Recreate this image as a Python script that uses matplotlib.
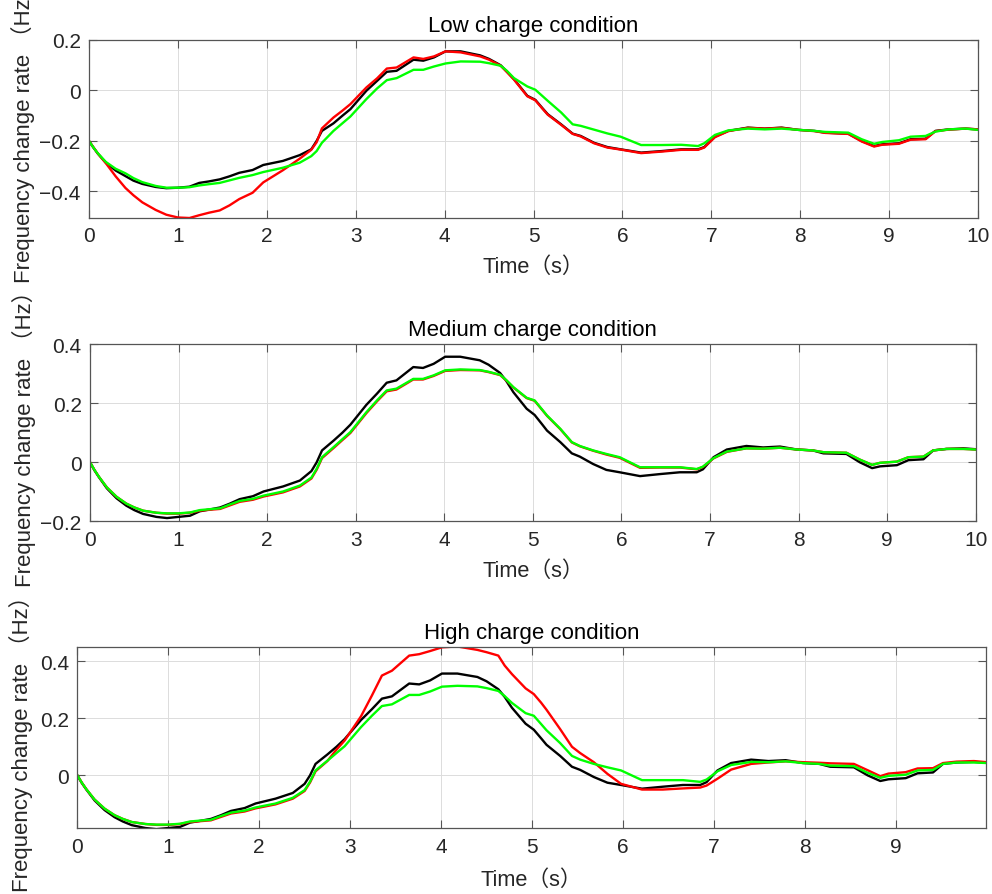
import numpy as np
import matplotlib
matplotlib.use("Agg")
import matplotlib.pyplot as plt
from matplotlib.ticker import FuncFormatter

plt.rcParams['font.family'] = ['Liberation Sans', 'Noto Sans CJK SC']
plt.rcParams['axes.unicode_minus'] = True

# ------------------------------------------
# data: frequency change rate (Hz) sampled over time (s)
# ------------------------------------------
t = [0, 0.05, 0.1, 0.19, 0.3, 0.41, 0.5, 0.6, 0.75, 0.87,
     1.0, 1.13, 1.24, 1.35, 1.47, 1.58, 1.69, 1.84, 1.96, 2.18,
     2.37, 2.5, 2.56, 2.62, 2.75, 2.85, 2.94, 3.12, 3.24, 3.35,
     3.46, 3.65, 3.76, 3.88, 4.01, 4.18, 4.4, 4.5, 4.63, 4.7,
     4.78, 4.93, 5.02, 5.1, 5.16, 5.31, 5.44, 5.53, 5.68, 5.83,
     5.98, 6.21, 6.44, 6.66, 6.85, 6.92, 7.04, 7.19, 7.41, 7.6,
     7.79, 7.98, 8.16, 8.28, 8.54, 8.69, 8.83, 8.92, 9.11, 9.24,
     9.41, 9.52, 9.67, 9.86, 10.0]

# low charge condition
low_black = [-0.2, -0.226, -0.25, -0.286, -0.317, -0.339, -0.357, -0.37, -0.382, -0.387,
             -0.385, -0.381, -0.366, -0.36, -0.352, -0.34, -0.326, -0.315, -0.295, -0.279,
             -0.256, -0.233, -0.2, -0.16, -0.13, -0.1, -0.074, -0.001, 0.038, 0.074,
             0.078, 0.122, 0.118, 0.131, 0.155, 0.155, 0.139, 0.125, 0.1, 0.075,
             0.045, -0.021, -0.037, -0.07, -0.094, -0.134, -0.171, -0.18, -0.207, -0.224,
             -0.233, -0.246, -0.24, -0.233, -0.233, -0.224, -0.183, -0.16, -0.147, -0.151,
             -0.147, -0.156, -0.16, -0.167, -0.171, -0.2, -0.22, -0.213, -0.209, -0.193,
             -0.191, -0.16, -0.154, -0.151, -0.154]
low_red = [-0.2, -0.225, -0.25, -0.288, -0.34, -0.386, -0.415, -0.443, -0.473, -0.492,
           -0.503, -0.505, -0.494, -0.484, -0.475, -0.455, -0.43, -0.405, -0.364, -0.316,
           -0.27, -0.235, -0.205, -0.15, -0.107, -0.08, -0.054, 0.012, 0.048, 0.087,
           0.091, 0.131, 0.125, 0.135, 0.155, 0.151, 0.135, 0.122, 0.098, 0.073,
           0.043, -0.023, -0.039, -0.072, -0.096, -0.136, -0.172, -0.182, -0.209, -0.226,
           -0.234, -0.248, -0.242, -0.235, -0.235, -0.226, -0.185, -0.161, -0.148, -0.151,
           -0.148, -0.156, -0.161, -0.168, -0.172, -0.202, -0.222, -0.215, -0.211, -0.195,
           -0.193, -0.161, -0.155, -0.151, -0.154]
low_green = [-0.2, -0.226, -0.249, -0.283, -0.31, -0.328, -0.347, -0.363, -0.378, -0.385,
             -0.385, -0.383, -0.376, -0.371, -0.366, -0.356, -0.346, -0.335, -0.323, -0.306,
             -0.286, -0.26, -0.24, -0.207, -0.16, -0.13, -0.103, -0.034, 0.008, 0.041,
             0.049, 0.082, 0.082, 0.095, 0.107, 0.115, 0.114, 0.108, 0.098, 0.078,
             0.049, 0.016, 0.003, -0.022, -0.041, -0.087, -0.134, -0.14, -0.155, -0.17,
             -0.183, -0.216, -0.216, -0.215, -0.22, -0.209, -0.176, -0.158, -0.151, -0.154,
             -0.151, -0.156, -0.16, -0.164, -0.167, -0.193, -0.211, -0.204, -0.197, -0.183,
             -0.18, -0.163, -0.154, -0.151, -0.156]

# medium charge condition
mid_black = [0, -0.027, -0.05, -0.088, -0.122, -0.147, -0.162, -0.175, -0.185, -0.189,
             -0.185, -0.181, -0.166, -0.16, -0.153, -0.14, -0.125, -0.115, -0.099, -0.082,
             -0.062, -0.03, 0.0, 0.04, 0.073, 0.1, 0.127, 0.194, 0.232, 0.269,
             0.277, 0.322, 0.319, 0.333, 0.357, 0.357, 0.345, 0.33, 0.302, 0.275,
             0.237, 0.181, 0.16, 0.13, 0.107, 0.068, 0.03, 0.019, -0.006, -0.026,
             -0.034, -0.047, -0.04, -0.034, -0.034, -0.024, 0.017, 0.043, 0.055, 0.05,
             0.053, 0.043, 0.04, 0.03, 0.028, 0.0, -0.02, -0.014, -0.01, 0.007,
             0.01, 0.04, 0.045, 0.047, 0.044]
mid_red = [0, -0.026, -0.049, -0.085, -0.117, -0.14, -0.153, -0.164, -0.171, -0.174,
           -0.174, -0.171, -0.164, -0.161, -0.158, -0.146, -0.134, -0.127, -0.116, -0.102,
           -0.082, -0.055, -0.025, 0.014, 0.048, 0.075, 0.099, 0.166, 0.206, 0.24,
           0.246, 0.28, 0.28, 0.292, 0.309, 0.312, 0.311, 0.305, 0.295, 0.277,
           0.253, 0.217, 0.208, 0.179, 0.157, 0.112, 0.067, 0.054, 0.039, 0.026,
           0.015, -0.019, -0.018, -0.018, -0.024, -0.016, 0.013, 0.035, 0.047, 0.046,
           0.049, 0.043, 0.04, 0.034, 0.032, 0.009, -0.009, -0.002, 0.002, 0.017,
           0.019, 0.04, 0.045, 0.045, 0.043]
mid_green = [0, -0.026, -0.049, -0.085, -0.117, -0.14, -0.153, -0.164, -0.171, -0.173,
             -0.173, -0.17, -0.162, -0.159, -0.156, -0.143, -0.131, -0.124, -0.113, -0.099,
             -0.079, -0.052, -0.022, 0.017, 0.051, 0.078, 0.102, 0.169, 0.209, 0.243,
             0.249, 0.282, 0.282, 0.294, 0.311, 0.314, 0.312, 0.306, 0.296, 0.278,
             0.254, 0.218, 0.209, 0.18, 0.158, 0.113, 0.068, 0.055, 0.04, 0.028,
             0.017, -0.017, -0.017, -0.017, -0.023, -0.015, 0.014, 0.036, 0.047, 0.046,
             0.049, 0.043, 0.04, 0.034, 0.032, 0.009, -0.009, -0.002, 0.002, 0.017,
             0.019, 0.04, 0.045, 0.045, 0.043]

# high charge condition (black / green match the medium case)
high_black = list(mid_black)
high_red = [0, -0.026, -0.049, -0.085, -0.117, -0.14, -0.153, -0.164, -0.171, -0.174,
            -0.174, -0.171, -0.164, -0.161, -0.158, -0.146, -0.134, -0.127, -0.116, -0.102,
            -0.082, -0.055, -0.025, 0.014, 0.05, 0.09, 0.122, 0.207, 0.28, 0.35,
            0.367, 0.42, 0.425, 0.436, 0.449, 0.452, 0.44, 0.432, 0.42, 0.385,
            0.355, 0.305, 0.285, 0.255, 0.23, 0.162, 0.1, 0.078, 0.046, 0.005,
            -0.03, -0.05, -0.05, -0.046, -0.043, -0.036, -0.012, 0.02, 0.04, 0.045,
            0.049, 0.046, 0.044, 0.042, 0.04, 0.018, -0.003, 0.006, 0.011, 0.024,
            0.025, 0.043, 0.048, 0.05, 0.046]
high_green = list(mid_green)

titles = ["Low charge condition", "Medium charge condition", "High charge condition"]
ylims = [(-0.505, 0.2), (-0.2, 0.4), (-0.186, 0.449)]
yticks = [[-0.4, -0.2, 0, 0.2], [-0.2, 0, 0.2, 0.4], [0, 0.2, 0.4]]
xticks = [list(range(0, 11)), list(range(0, 11)), list(range(0, 10))]
xlims = [(0, 10), (0, 10), (0, 9.99)]

# ------------------------------------------
# plotting
# ------------------------------------------
fig = plt.figure(figsize=(9.92, 8.95), dpi=100)
rects = [[0.0897, 0.7553, 0.8963, 0.1989],
         [0.0907, 0.4164, 0.8929, 0.1981],
         [0.0779, 0.0734, 0.9158, 0.2022]]
series = [(low_black, low_red, low_green),
          (mid_black, mid_red, mid_green),
          (high_black, high_red, high_green)]
ylab_x = [-0.061, -0.061, -0.049]
xlab_y = [-0.215, -0.215, -0.225]

def tick_fmt(v, pos):
    return ('%g' % round(v, 3)).replace('-', '\u2212')

for i in range(3):
    ax = fig.add_axes(rects[i])
    black, red, green = series[i]
    ax.plot(t, black, color='k', lw=1.7)
    ax.plot(t, red, color='#ff0000', lw=1.7)
    ax.plot(t, green, color='#00ff00', lw=1.7)

    ax.set_xlim(*xlims[i])
    ax.set_ylim(*ylims[i])
    ax.set_xticks(xticks[i])
    ax.set_yticks(yticks[i])
    ax.xaxis.set_major_formatter(FuncFormatter(tick_fmt))
    ax.yaxis.set_major_formatter(FuncFormatter(tick_fmt))

    ax.grid(True, color='#dcdcdc', lw=0.7)
    ax.set_axisbelow(True)
    for sp in ax.spines.values():
        sp.set_color('#555555')
        sp.set_linewidth(0.9)
    ax.tick_params(direction='in', top=True, right=True, length=6, width=0.8,
                   color='#555555', labelsize=15, labelcolor='#262626', pad=6)

    ax.set_title(titles[i], fontsize=16, pad=6.5)
    ax.set_xlabel("Time（s）", fontsize=15.7, color='#262626')
    ax.set_ylabel("Frequency change rate （Hz）", fontsize=16, color='#262626')
    ax.xaxis.set_label_coords(0.5, xlab_y[i])
    ax.yaxis.set_label_coords(ylab_x[i], 0.5)

fig.savefig("out.png", dpi=100)
